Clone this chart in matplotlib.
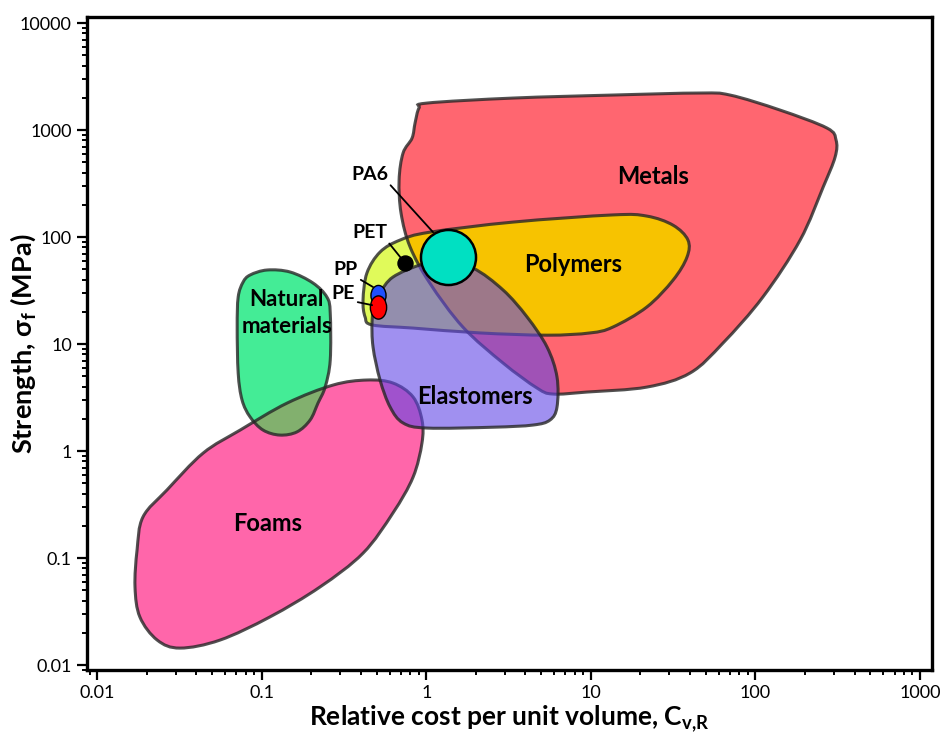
import numpy as np
import matplotlib
matplotlib.use("Agg")
import matplotlib.pyplot as plt
from matplotlib.path import Path
from matplotlib.patches import PathPatch
from matplotlib.transforms import Affine2D
from matplotlib.ticker import LogLocator, NullFormatter

plt.rcParams["font.family"] = ["Lato", "DejaVu Sans"]
plt.rcParams["mathtext.fontset"] = "custom"
plt.rcParams["mathtext.rm"] = "Lato"
plt.rcParams["mathtext.bf"] = "Lato:bold"
plt.rcParams["mathtext.it"] = "Lato:italic"
plt.rcParams["mathtext.fallback"] = "stixsans"

# family envelopes: relative cost per unit volume vs strength (MPa)
metals_cost = [0.904, 1.01, 3.37, 13.6, 46.0, 70.1, 141, 272, 309, 305, 258, 187, 111, 63.5,
               40.1, 21.9, 9.49, 5.89, 4.71, 2.93, 1.67, 1.05, 0.798, 0.703, 0.684, 0.723, 0.820, 0.855]
metals_strength = [1607, 1787, 1991, 2124, 2218, 2124, 1538, 1045, 807, 560, 293, 93.8, 27.5, 10.2,
                   5.36, 3.96, 3.56, 3.41, 3.88, 6.64, 14.4, 37.2, 80.7, 167, 341, 610, 841, 1162]

polymers_cost = [0.413, 0.436, 0.524, 0.694, 1.05, 3.37, 13.6, 21.9, 31.6, 38.9, 38.4, 31.6, 21.9,
                 13.6, 9.89, 5.42, 2.12, 0.832, 0.469, 0.425]
polymers_strength = [25.8, 46.1, 72.4, 93.8, 111, 138, 161, 157, 129, 93.8, 65.0, 39.6, 22.2,
                     14.4, 12.7, 12.1, 12.7, 14.1, 15.1, 17.9]

elastomers_cost = [0.489, 0.524, 0.628, 0.916, 1.26, 1.92, 2.93, 4.10, 5.42, 6.23, 6.23, 5.65,
                   4.46, 2.55, 1.01, 0.723, 0.603, 0.524, 0.475, 0.469]
elastomers_strength = [25.8, 30.6, 42.3, 54.8, 58.4, 51.3, 32.0, 17.9, 9.38, 4.92, 2.58, 1.95,
                       1.75, 1.67, 1.64, 1.83, 2.58, 4.61, 9.38, 16.7]

natural_cost = [0.0851, 0.108, 0.149, 0.205, 0.249, 0.261, 0.261, 0.243, 0.220, 0.197, 0.164,
                0.129, 0.102, 0.0851, 0.0760, 0.0720, 0.0710, 0.0720, 0.0771]
natural_strength = [44.2, 49.2, 47.1, 37.2, 27.5, 19.5, 7.08, 3.96, 2.81, 1.95, 1.51,
                    1.41, 1.57, 2.08, 3.00, 5.36, 14.4, 27.5, 37.9]

foams_cost = [0.0266, 0.0190, 0.0175, 0.0170, 0.0182, 0.0232, 0.0319, 0.0558, 0.112, 0.226,
              0.413, 0.628, 0.832, 0.942, 0.942, 0.832, 0.628, 0.436, 0.272, 0.143, 0.0740, 0.0441]
foams_strength = [0.433, 0.242, 0.119, 0.0536, 0.0281, 0.0171, 0.0144, 0.0171, 0.0281, 0.0536,
                  0.111, 0.264, 0.571, 1.19, 1.95, 3.20, 4.32, 4.61, 4.14, 2.81, 1.57, 0.957]

region_names = ["Metals", "Polymers", "Natural\nmaterials", "Elastomers", "Foams"]
region_cost = [23.9, 7.8, 0.142, 1.98, 0.108]
region_strength = [372, 54.8, 19.5, 3.26, 0.212]
region_size = [17, 17, 16, 17, 17]

# individual polymers
grade_names = ["PA6", "PET", "PP", "PE"]
grade_cost = [1.36, 0.743, 0.51, 0.51]
grade_strength = [65.0, 57.2, 28.5, 22.4]
label_cost = [0.586, 0.578, 0.385, 0.369]
label_strength = [345, 98.5, 44.0, 26.6]
leader_cost = [1.10, 0.743, 0.475, 0.469]
leader_strength = [111, 57.2, 34.1, 23.1]

xticks = [0.01, 0.1, 1, 10, 100, 1000]
xtick_labels = ["0.01", "0.1", "1", "10", "100", "1000"]
yticks = [0.01, 0.1, 1, 10, 100, 1000, 10000]
ytick_labels = ["0.01", "0.1", "1", "10", "100", "1000", "10000"]

EDGE = (0.15, 0.15, 0.15, 0.8)


def blob_path(cost, strength):
    # closed smooth outline through the read points, built in log space
    pts = np.log10(np.column_stack([cost, strength]))
    n = len(pts)
    verts = [pts[0]]
    codes = [Path.MOVETO]
    for i in range(n):
        p0, p1, p2, p3 = pts[i - 1], pts[i], pts[(i + 1) % n], pts[(i + 2) % n]
        verts += [p1 + (p2 - p0) / 6, p2 - (p3 - p1) / 6, p2]
        codes += [Path.CURVE4] * 3
    verts.append(pts[0])
    codes.append(Path.CLOSEPOLY)
    return Path(10 ** np.array(verts), codes)


def ellipse_marker(sx, sy):
    return Path.unit_circle().transformed(Affine2D().scale(sx, sy))


fig = plt.figure(figsize=(9.4, 7.35), dpi=100)
ax = fig.add_axes([0.0926, 0.0884, 0.8989, 0.8884])
ax.set_xscale("log")
ax.set_yscale("log")
ax.set_xlim(0.00869, 1183)
ax.set_ylim(0.00898, 11380)

metals = blob_path(metals_cost, metals_strength)
polymers = blob_path(polymers_cost, polymers_strength)
elastomers = blob_path(elastomers_cost, elastomers_strength)
natural = blob_path(natural_cost, natural_strength)
foams = blob_path(foams_cost, foams_strength)

metals_patch = ax.add_patch(PathPatch(metals, facecolor="#FF6670", edgecolor="none", zorder=1))
ax.add_patch(PathPatch(polymers, facecolor="#E0FA5A", edgecolor="none", zorder=2))
gold = ax.add_patch(PathPatch(polymers, facecolor="#F7C300", edgecolor="none", zorder=3))
gold.set_clip_path(metals_patch)

ax.add_patch(PathPatch(foams, facecolor="#FF66AA", edgecolor="none", zorder=4))
natural_patch = ax.add_patch(PathPatch(natural, facecolor="#44EC96", edgecolor="none", zorder=5))
olive = ax.add_patch(PathPatch(foams, facecolor="#82B06E", edgecolor="none", zorder=6))
olive.set_clip_path(natural_patch)

for p in [metals, polymers, foams, natural]:
    ax.add_patch(PathPatch(p, facecolor="none", edgecolor=EDGE, lw=2.2, zorder=7))

ax.add_patch(PathPatch(elastomers, facecolor=(97/255, 70/255, 230/255, 0.6),
                       edgecolor="none", zorder=8))
ax.add_patch(PathPatch(elastomers, facecolor="none", edgecolor=EDGE, lw=2.2, zorder=9))

for name, x, y, fs in zip(region_names, region_cost, region_strength, region_size):
    ax.text(x, y, name, ha="center", va="center", fontsize=fs, fontweight="bold",
            linespacing=1.3, zorder=12)

for i, name in enumerate(grade_names):
    ax.annotate(name, xy=(leader_cost[i], leader_strength[i]),
                xytext=(label_cost[i], label_strength[i]), ha="right", va="baseline",
                fontsize=14, fontweight="bold", zorder=12,
                arrowprops=dict(arrowstyle="-", color="black", lw=1.3,
                                shrinkA=0, shrinkB=0, relpos=(1, 0)))

ax.scatter(grade_cost[0], grade_strength[0], s=1570, color="#00E0C2", edgecolor="black",
           linewidth=1.8, zorder=11)
ax.scatter(grade_cost[1], grade_strength[1], s=117, color="black", zorder=11)
ax.scatter(grade_cost[2], grade_strength[2], s=210, marker=ellipse_marker(0.75, 1),
           color="#1F4FFF", edgecolor="black", linewidth=1.0, zorder=11)
ax.scatter(grade_cost[3], grade_strength[3], s=280, marker=ellipse_marker(0.7, 1),
           color="#FF0000", edgecolor="black", linewidth=1.0, zorder=11)

ax.set_xticks(xticks, xtick_labels)
ax.set_yticks(yticks, ytick_labels)
ax.xaxis.set_minor_locator(LogLocator(base=10, subs=np.arange(2, 10)))
ax.yaxis.set_minor_locator(LogLocator(base=10, subs=np.arange(2, 10)))
ax.xaxis.set_minor_formatter(NullFormatter())
ax.yaxis.set_minor_formatter(NullFormatter())
ax.tick_params(which="major", direction="out", length=7, width=1.6, labelsize=13, pad=4)
ax.tick_params(which="minor", direction="out", length=3.5, width=1.4)
for s in ax.spines.values():
    s.set_linewidth(2.4)

ax.set_xlabel(r"Relative cost per unit volume, $\mathbf{C_{v{,}R}}$", fontsize=19,
              fontweight="bold")
ax.set_ylabel(r"Strength, $\mathbf{\sigma_f}$ (MPa)", fontsize=19.5, fontweight="bold")
ax.xaxis.set_label_coords(0.5, -0.05)
ax.yaxis.set_label_coords(-0.058, 0.5)

fig.savefig("out.png", dpi=100)
